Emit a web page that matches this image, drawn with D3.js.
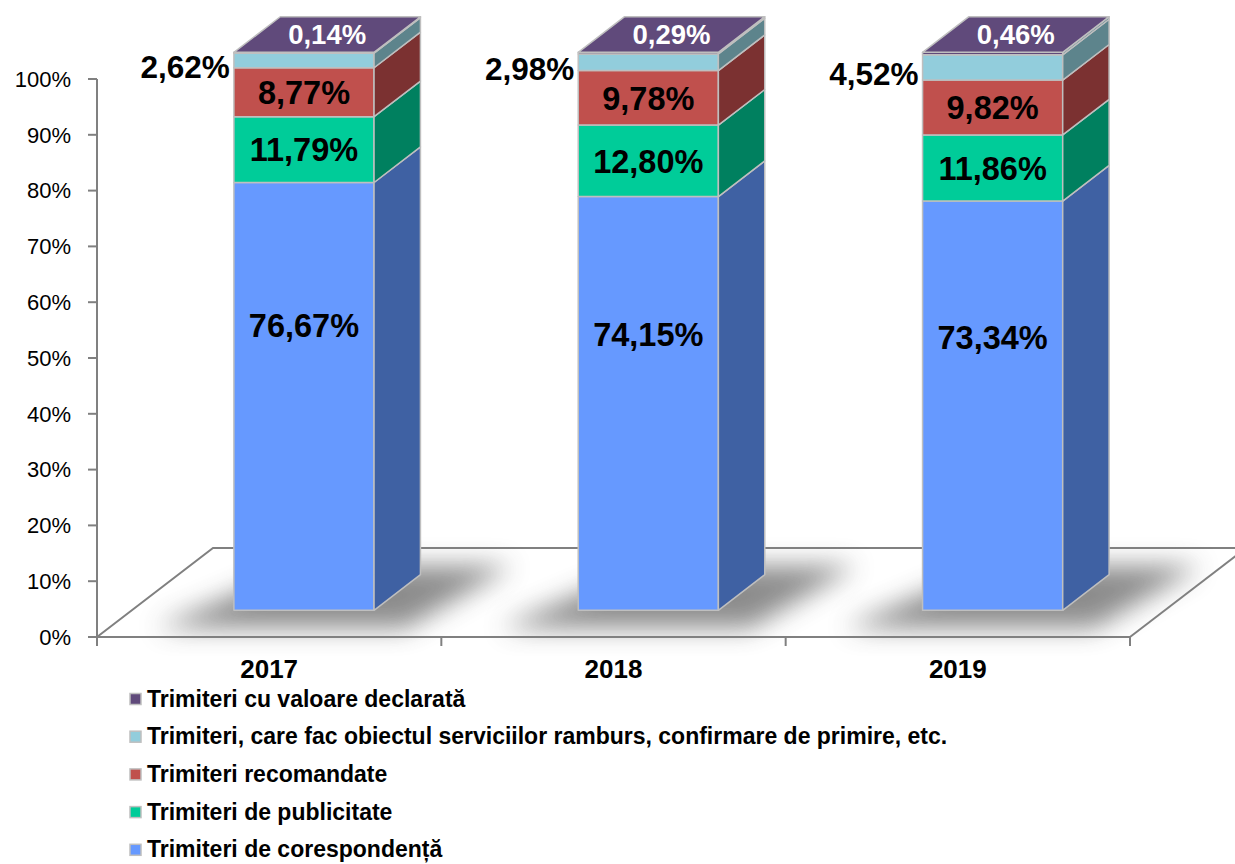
<!DOCTYPE html>
<html>
<head>
<meta charset="utf-8">
<script src="https://cdn.jsdelivr.net/npm/d3@7"></script>
<style>
  html, body { margin: 0; padding: 0; background: #fff; }
  svg { display: block; font-family: Arial, "Liberation Sans", sans-serif; }
</style>
</head>
<body>
<svg id="chart"></svg>
<script>
const years = ["2017", "2018", "2019"];
const corespondenta = [76.67, 74.15, 73.34];
const publicitate = [11.79, 12.80, 11.86];
const recomandate = [8.77, 9.78, 9.82];
const ramburs = [2.62, 2.98, 4.52];
const valoare = [0.14, 0.29, 0.46];

const seriesNames = [
  "Trimiteri de corespondență",
  "Trimiteri de publicitate",
  "Trimiteri recomandate",
  "Trimiteri, care fac obiectul serviciilor ramburs, confirmare de primire, etc.",
  "Trimiteri cu valoare declarată"
];
const frontColors = ["#6699FF", "#00CC99", "#C0504D", "#92CDDC", "#604A7B"];
const sideColors  = ["#3F61A3", "#00805F", "#7B3131", "#5D848C", "#5F8690"];
const topColor = "#604A7B";
const yTicks = [0, 10, 20, 30, 40, 50, 60, 70, 80, 90, 100];

const W = 1235, H = 864;
const svg = d3.select("#chart").attr("width", W).attr("height", H);

const rows = years.map((yr, i) => ({
  year: yr,
  s0: corespondenta[i], s1: publicitate[i], s2: recomandate[i], s3: ramburs[i], s4: valoare[i]
}));
const keys = ["s0", "s1", "s2", "s3", "s4"];
const stacked = d3.stack().keys(keys)(rows);

// plot geometry (3D floor)
const x0 = 97, x1 = 1130;
const y = d3.scaleLinear().domain([0, 100]).range([637, 79]);
const depthX = 116, depthY = 89;
const dFront = 0.3, dBack = 0.7;

const x = d3.scaleBand().domain(years).range([x0, x1])
  .paddingInner(0.593).paddingOuter(0.2965);

const proj = (px, v, d) => [px + d * depthX, y(v) - d * depthY];

const defs = svg.append("defs");
defs.append("filter").attr("id", "shadow")
  .attr("x", "-50%").attr("y", "-100%").attr("width", "200%").attr("height", "300%")
  .append("feGaussianBlur").attr("stdDeviation", 13);

// floor
const axisColor = "#808080";
const floor = svg.append("g").attr("fill", "none").attr("stroke", axisColor).attr("stroke-width", 2);
floor.append("path").attr("d", d3.line()([proj(x0, 0, 0), proj(x0, 0, 1), proj(x1 + 200, 0, 1)]));
floor.append("path").attr("d", d3.line()([proj(x1, 0, 0), proj(x1, 0, 1)]));

// shadows
svg.append("g").selectAll("path")
  .data(years)
  .join("path")
  .attr("filter", "url(#shadow)")
  .attr("fill", "#808080")
  .attr("opacity", 0.9)
  .attr("d", yr => {
    const bx = x(yr), bw = x.bandwidth();
    return d3.line()([
      proj(bx - 55, 0, 0.1),
      proj(bx + bw + 55, 0, 0.1),
      proj(bx + bw + 80, 0, 0.8),
      proj(bx + 10, 0, 0.8)
    ]) + "Z";
  });

// y axis
const yAxisG = svg.append("g");
yAxisG.append("line").attr("x1", x0).attr("x2", x0).attr("y1", y(100)).attr("y2", y(0))
  .attr("stroke", axisColor).attr("stroke-width", 2);
yAxisG.selectAll("line.tick").data(yTicks).join("line").attr("class", "tick")
  .attr("x1", x0 - 9).attr("x2", x0).attr("y1", d => y(d)).attr("y2", d => y(d))
  .attr("stroke", axisColor).attr("stroke-width", 2);
yAxisG.selectAll("text").data(yTicks).join("text")
  .attr("x", 71).attr("y", d => y(d)).attr("dy", "0.35em")
  .attr("text-anchor", "end").attr("font-size", 22).attr("fill", "#000")
  .text(d => d + "%");

// x axis
const xAxisG = svg.append("g");
xAxisG.append("line").attr("x1", x0).attr("x2", x1).attr("y1", y(0)).attr("y2", y(0))
  .attr("stroke", axisColor).attr("stroke-width", 2);
const xTickPos = years.map(yr => x(yr) - x.step() * x.paddingInner() / 2).concat([x1]);
xAxisG.selectAll("line.tick").data(xTickPos).join("line").attr("class", "tick")
  .attr("x1", d => d).attr("x2", d => d).attr("y1", y(0)).attr("y2", y(0) + 9)
  .attr("stroke", axisColor).attr("stroke-width", 2);
xAxisG.selectAll("text").data(years).join("text")
  .attr("x", d => x(d) + x.bandwidth() / 2).attr("y", 678)
  .attr("text-anchor", "middle").attr("font-size", 26).attr("font-weight", "bold")
  .text(d => d);

// bars
const edge = "#BFBFBF";
const barsG = svg.append("g");
stacked.forEach((layer, si) => {
  layer.forEach((seg, i) => {
    const yr = years[i];
    const bx = x(yr), bw = x.bandwidth();
    const [lo, hi] = seg;
    const g = barsG.append("g").attr("stroke", edge).attr("stroke-width", 1.5).attr("stroke-linejoin", "round");
    const fl = proj(bx, lo, dFront), fh = proj(bx + bw, hi, dFront);
    g.append("rect")
      .attr("x", fl[0]).attr("y", fh[1])
      .attr("width", fh[0] - fl[0]).attr("height", fl[1] - fh[1])
      .attr("fill", frontColors[si]);
    g.append("path")
      .attr("fill", sideColors[si])
      .attr("d", d3.line()([
        proj(bx + bw, lo, dFront), proj(bx + bw, lo, dBack),
        proj(bx + bw, hi, dBack), proj(bx + bw, hi, dFront)
      ]) + "Z");
    if (si === stacked.length - 1) {
      g.append("path")
        .attr("fill", topColor)
        .attr("d", d3.line()([
          proj(bx, hi, dFront), proj(bx + bw, hi, dFront),
          proj(bx + bw, hi, dBack), proj(bx, hi, dBack)
        ]) + "Z");
    }
  });
});

// labels
const fmt = v => d3.format(".2f")(v).replace(".", ",") + "%";
const labelsG = svg.append("g").attr("font-weight", "bold");
stacked.forEach((layer, si) => {
  layer.forEach((seg, i) => {
    const yr = years[i];
    const bx = x(yr), bw = x.bandwidth();
    const [lo, hi] = seg;
    const v = seg.data[keys[si]];
    let tx, ty, anchor = "middle", fill = "#000", size = 32.5;
    if (si === 0) {
      [tx, ty] = proj(bx + bw / 2, hi - (hi - lo) / 3, dFront);
    } else if (si === 3) {
      [tx, ty] = proj(bx - 4, (lo + hi) / 2, dFront);
      ty += 6;
      anchor = "end"; size = 31.5;
    } else if (si === 4) {
      [tx, ty] = proj(bx + bw / 2, hi, (dFront + dBack) / 2);
      fill = "#fff"; size = 27.5;
    } else {
      [tx, ty] = proj(bx + bw / 2, (lo + hi) / 2, dFront);
    }
    labelsG.append("text")
      .attr("x", tx).attr("y", ty).attr("dy", "0.36em")
      .attr("text-anchor", anchor).attr("font-size", size).attr("fill", fill)
      .text(fmt(v));
  });
});

// legend (top to bottom: reverse of stacking order)
const legendOrder = d3.range(seriesNames.length).reverse();
const legend = svg.append("g").attr("font-weight", "bold").attr("font-size", 23);
legendOrder.forEach((si, k) => {
  const ly = 699 + k * 37.7;
  legend.append("rect").attr("x", 130).attr("y", ly - 5.5).attr("width", 11).attr("height", 11)
    .attr("fill", frontColors[si]).attr("stroke", "#BFBFBF").attr("stroke-width", 1.5);
  legend.append("text").attr("x", 147).attr("y", ly).attr("dy", "0.33em").text(seriesNames[si]);
});
</script>
</body>
</html>
